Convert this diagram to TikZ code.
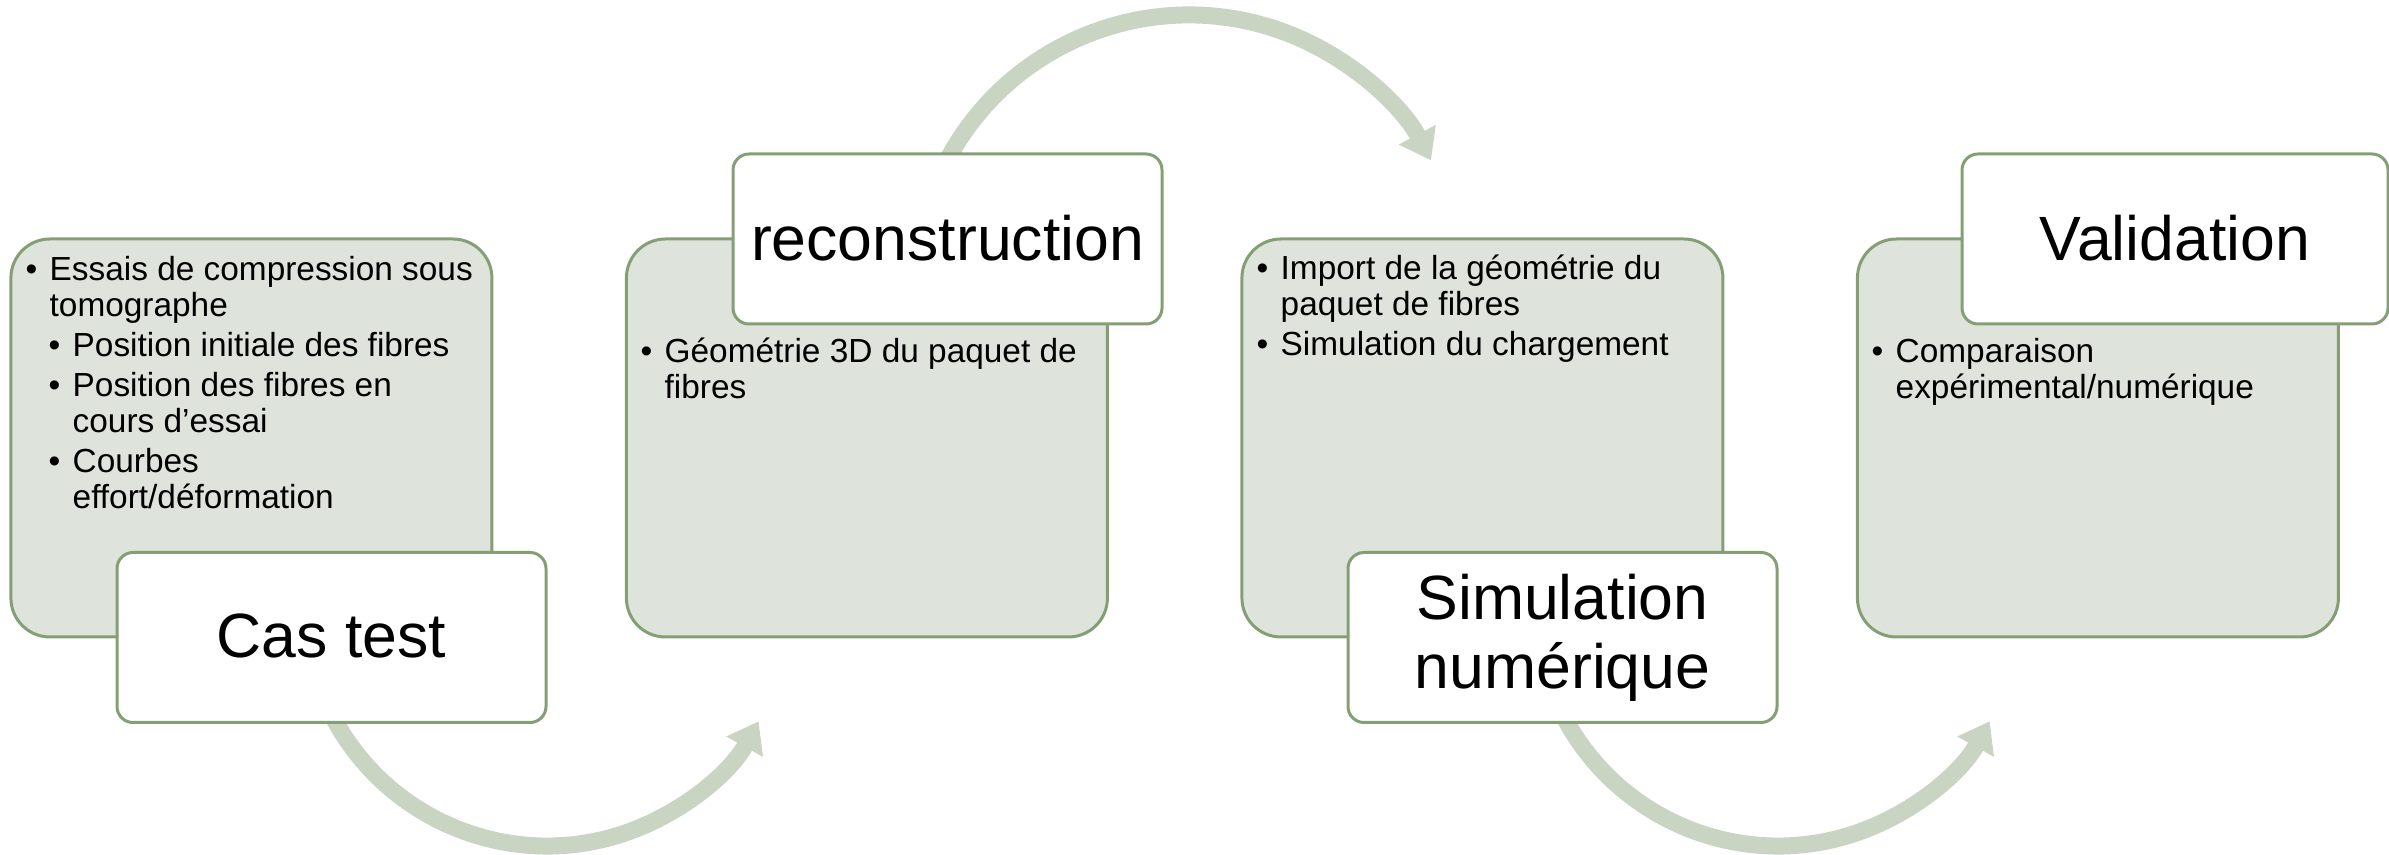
\documentclass[tikz,border=0pt]{standalone}
\usepackage{fontspec}
\setmainfont{Liberation Sans}
\usetikzlibrary{arrows.meta,calc}
\definecolor{boxfill}{HTML}{DEE3DB}
\definecolor{boxline}{HTML}{859F75}
\definecolor{arrowc}{HTML}{C9D4C3}
\newcommand{\bulx}{\makebox[2.4mm][l]{•}}
\newcommand{\itemgap}{\vskip 1.14pt}
\begin{document}
\begin{tikzpicture}[x=0.1mm,y=0.1mm,
  greenbox/.style={draw=boxline, fill=boxfill, line width=0.3mm, rounded corners=3.9mm, minimum width=48.1mm, minimum height=39.8mm, inner sep=0pt},
  whitebox/.style={draw=boxline, fill=white, line width=0.3mm, rounded corners=1.6mm, minimum height=17mm, inner sep=0pt, font=\fontsize{17.8}{19.6}\selectfont, align=center},
  body/.style={font=\fontsize{9.5}{10.24}\selectfont, anchor=base west, inner sep=0pt},
  flow/.style={draw=arrowc, line width=1.7mm, -{Triangle[length=2.9mm,width=4.0mm]}}
]
\useasboundingbox (0,0) rectangle (2389,-855);

% arrows (behind the boxes)
\coordinate (a1s) at ($(547,-604)+(200:242)$);
\coordinate (a2s) at ($(1189,-289)+(155:274)$);
\coordinate (a3s) at ($(1778,-604)+(200:242)$);
\draw[flow] (a1s) arc[start angle=200, end angle=331, radius=24.2mm] coordinate (a1e);
\draw[flow] (a2s) arc[start angle=155, end angle=28, radius=27.4mm] coordinate (a2e);
\draw[flow] (a3s) arc[start angle=200, end angle=331, radius=24.2mm] coordinate (a3e);

% green content boxes
\node[greenbox] (g1) at (251.4,-438) {};
\node[greenbox] (g2) at (866.9,-438) {};
\node[greenbox] (g3) at (1482.4,-438) {};
\node[greenbox] (g4) at (2097.9,-438) {};

% white title boxes
\node[whitebox, minimum width=42.9mm] (w1) at (331.5,-637.5) {\raisebox{0.3mm}{Cas test}};
\node[whitebox, minimum width=42.9mm] (w2) at (947.5,-239) {\raisebox{0.3mm}{reconstruction}};
\node[whitebox, minimum width=42.9mm] (w3) at (1562.5,-637.5) {Simulation\\num\'erique};
\node[whitebox, minimum width=42.6mm] (w4) at (2175,-239) {\raisebox{0.3mm}{Validation}};

% bullet texts
\node[body] (t1) at (25,-281) {\vtop{%
  \hbox{\bulx Essais de compression sous}
  \hbox{\hspace*{2.4mm}tomographe}
  \itemgap
  \hbox{\hspace*{2.3mm}\bulx Position initiale des fibres}
  \itemgap
  \hbox{\hspace*{2.3mm}\bulx Position des fibres en}
  \hbox{\hspace*{4.7mm}cours d’essai}
  \itemgap
  \hbox{\hspace*{2.3mm}\bulx Courbes}
  \hbox{\hspace*{4.7mm}effort/déformation}}};
\node[body] (t2) at (640,-363) {\vtop{%
  \hbox{\bulx Géométrie 3D du paquet de}
  \hbox{\hspace*{2.4mm}fibres}}};
\node[body] (t3) at (1256,-280) {\vtop{%
  \hbox{\bulx Import de la géométrie du}
  \hbox{\hspace*{2.4mm}paquet de fibres}
  \itemgap
  \hbox{\bulx Simulation du chargement}}};
\node[body] (t4) at (1871,-363) {\vtop{%
  \hbox{\bulx Comparaison}
  \hbox{\hspace*{2.4mm}expérimental/numérique}}};
\end{tikzpicture}
\end{document}
